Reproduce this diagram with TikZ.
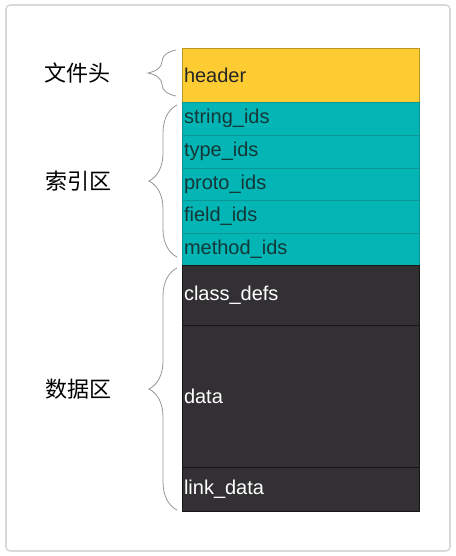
\documentclass[tikz,border=0pt]{standalone}
\usepackage{fontspec}
\setmainfont{Liberation Sans}
\newfontfamily\cjkfont{Noto Sans CJK SC}
\usetikzlibrary{positioning, decorations.pathreplacing}

\definecolor{hdryellow}{RGB}{253,203,50}
\definecolor{idxteal}{RGB}{4,181,181}
\definecolor{idxline}{RGB}{10,150,150}
\definecolor{idxtext}{RGB}{20,55,55}
\definecolor{datadark}{RGB}{50,48,51}
\definecolor{dataline}{RGB}{22,22,22}
\definecolor{bracegray}{RGB}{150,150,150}

\tikzset{
  seg/.style={minimum width=177.75pt, text width=174.75pt, inner xsep=1.5pt, inner ysep=0pt, align=left, outer sep=0pt, line width=0.5pt},
  hdrseg/.style={seg, fill=hdryellow, draw=hdryellow!75!black, text=black!85},
  idxseg/.style={seg, fill=idxteal, draw=idxline, text=idxtext},
  dataseg/.style={seg, fill=datadark, draw=dataline, text=white},
  lbl/.style={font=\cjkfont\fontsize{16.5}{20}\selectfont, inner sep=0pt},
  brc/.style={draw=bracegray, line width=0.6pt, decorate, decoration={brace, amplitude=21pt}}
}

\begin{document}
\begin{tikzpicture}[x=0.75pt, y=0.75pt, node distance=0pt, font=\fontsize{15}{18}\selectfont]
\useasboundingbox (0,0) rectangle (456,556);
\draw[gray!30, line width=1.2pt, rounded corners=3pt] (6,5) rectangle (450,551);

% file layout
\node (header) [hdrseg, minimum height=40.5pt, anchor=north west] at (182,508) {header};
\node (stringids) [idxseg, minimum height=24.75pt, below=of header] {string\_ids};
\node (typeids) [idxseg, minimum height=24.75pt, below=of stringids] {type\_ids};
\node (protoids) [idxseg, minimum height=24pt, below=of typeids] {proto\_ids};
\node (fieldids) [idxseg, minimum height=24.75pt, below=of protoids] {field\_ids};
\node (methodids) [idxseg, minimum height=24pt, below=of fieldids] {method\_ids};
\node (classdefs) [dataseg, minimum height=45pt, below=of methodids] {class\_defs};
\node (data) [dataseg, minimum height=106.5pt, below=of classdefs] {data};
\node (linkdata) [dataseg, minimum height=33pt, below=of data] {link\_data};

% braces
\draw[brc] ([xshift=-4.5pt, yshift=4.5pt]header.south west) -- node[lbl, left=49pt] {文件头} ([xshift=-4.5pt, yshift=-1.5pt]header.north west);
\draw[brc] ([xshift=-3.75pt, yshift=6pt]methodids.south west) -- node[lbl, left=49pt] {索引区} ([xshift=-3.75pt, yshift=-2.25pt]stringids.north west);
\draw[brc] ([xshift=-3.75pt, yshift=0.75pt]linkdata.south west) -- node[lbl, left=49pt] {数据区} ([xshift=-3.75pt, yshift=-2.25pt]classdefs.north west);
\end{tikzpicture}
\end{document}
